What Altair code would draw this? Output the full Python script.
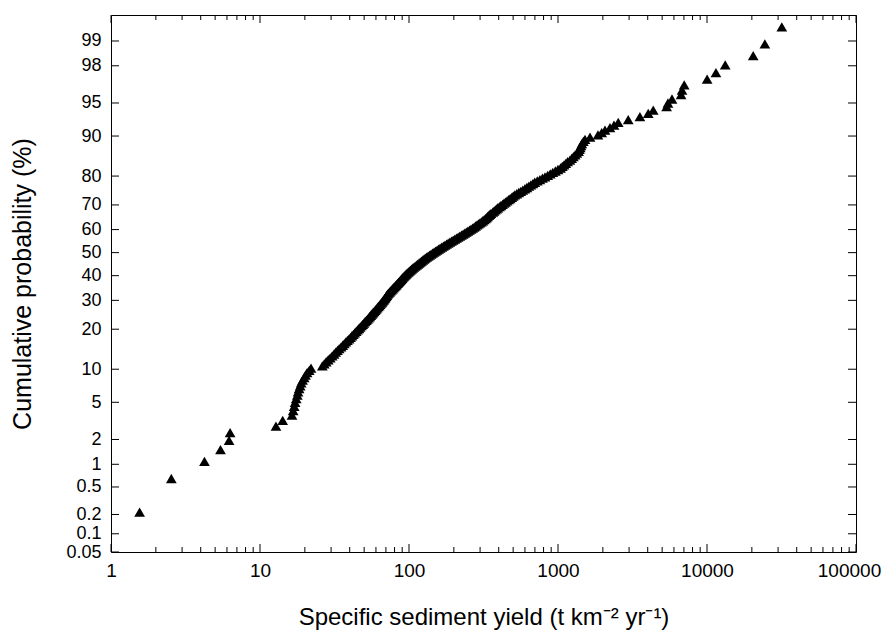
import altair as alt
import pandas as pd
from statistics import NormalDist

# Specific sediment yields (t km-2 yr-1), sorted ascending
yields = [
    1.556, 2.54, 4.24, 5.43, 6.2, 6.3, 12.8, 14.2, 16.4, 16.7,
    16.96, 17.2, 17.5, 17.8, 18.0, 18.3, 18.6, 18.9, 19.3, 19.8,
    20.2, 20.7, 21.4, 22.0, 26.2, 27.0, 27.8, 28.7, 29.6, 30.5,
    31.4, 32.2, 33.1, 34.0, 35.0, 35.9, 36.8, 37.7, 38.6, 39.6,
    40.5, 41.4, 42.3, 43.2, 44.2, 45.1, 46.1, 47.0, 48.0, 48.9,
    49.8, 50.7, 51.7, 52.6, 53.6, 54.5, 55.4, 56.4, 57.3, 58.3,
    59.2, 60.2, 61.1, 62.1, 63.1, 64.0, 65.0, 65.9, 66.8, 67.8,
    68.6, 69.4, 70.2, 71.0, 71.8, 72.9, 74.1, 75.2, 76.4, 77.6,
    78.8, 80.0, 81.3, 82.5, 83.8, 85.0, 86.2, 87.4, 88.6, 89.9,
    91.3, 92.7, 94.2, 95.6, 97.1, 98.8, 100.5, 102.3, 104.1, 105.9,
    108.0, 110.1, 112.3, 114.5, 116.7, 119.0, 121.3, 123.7, 126.1, 128.5,
    131.4, 134.4, 137.5, 140.7, 143.9, 147.3, 150.8, 154.5, 158.1, 161.8,
    165.9, 170.1, 174.4, 178.8, 183.2, 187.9, 192.8, 197.9, 203.1, 208.4,
    213.8, 219.3, 225.0, 230.8, 236.6, 242.5, 248.5, 254.6, 260.9, 267.3,
    273.5, 279.8, 286.2, 292.6, 299.2, 306.0, 313.0, 319.5, 326.0, 331.0,
    337.0, 343.0, 349.0, 355.0, 364.8, 372.0, 379.5, 387.0, 395.0, 404.6,
    414.0, 424.0, 434.0, 444.0, 455.0, 466.0, 477.0, 489.0, 500.5, 512.9,
    528.9, 545.4, 562.5, 580.4, 599.8, 618.5, 637.8, 657.7, 678.0, 698.2,
    726.3, 755.6, 786.1, 818.1, 853.1, 887.0, 922.9, 960.2, 999.3, 1040,
    1069, 1098, 1128, 1160, 1202, 1235, 1268, 1303, 1338, 1374,
    1392, 1410, 1428, 1446, 1480, 1518, 1640, 1854, 1963, 2067,
    2232, 2376, 2537, 2960, 3546, 4033, 4357, 5357, 5470, 5821,
    6700, 6800, 7032, 10020, 11480, 13250, 20420, 24450, 31770,
]
n_total = 230  # sample count (largest value plots above the axis top)

prob_ticks = [0.05, 0.1, 0.2, 0.5, 1, 2, 5, 10, 20, 30, 40, 50, 60, 70, 80, 90, 95, 98, 99]
prob_labels = ["0.05", "0.1", "0.2", "0.5", "1", "2", "5", "10", "20", "30",
               "40", "50", "60", "70", "80", "90", "95", "98", "99"]
prob_bottom = 0.05
prob_top = 99.55
x_major = [1, 10, 100, 1000, 10000, 100000]
x_minor_mult = [2, 3, 4, 5, 6, 7, 8, 9]

nd = NormalDist()
W, H = 745, 537
FONT = "Liberation Sans"

pts = pd.DataFrame({
    "x": yields,
    "z": [nd.inv_cdf((i + 0.5) / n_total) for i in range(len(yields))],
})
zt = [nd.inv_cdf(p / 100) for p in prob_ticks]
yt = pd.DataFrame({"z": zt})
xmaj = pd.DataFrame({"x": x_major})
xmin = pd.DataFrame({"x": [m * d for d in x_major[:-1] for m in x_minor_mult]})

# label expression mapping z positions back to percent labels
expr = ""
for i, lab in enumerate(prob_labels):
    if i < len(prob_labels) - 1:
        thr = (zt[i] + zt[i + 1]) / 2
        expr += f"datum.value < {thr:.5f} ? '{lab}' : "
    else:
        expr += f"'{lab}'"

xscale = alt.Scale(type="log", domain=[1, 100000], nice=False)
yscale = alt.Scale(domain=[nd.inv_cdf(prob_bottom / 100), nd.inv_cdf(prob_top / 100)],
                   nice=False, zero=False)

xaxis = alt.Axis(values=x_major, format="d", grid=False, ticks=False, tickSize=0,
                 domain=False, labelFlush=False, labelPadding=9, labelFontSize=19,
                 labelOffset=alt.condition("datum.value > 50000", alt.value(-7), alt.value(0)),
                 labelFont=FONT, labelColor="black",
                 title="Specific sediment yield (t km\u207b\u00b2 yr\u207b\u00b9)",
                 titleFont=FONT, titleFontSize=24, titleFontWeight="normal",
                 titleColor="black", titlePadding=25)
yaxis = alt.Axis(values=zt, labelExpr=expr, grid=False, ticks=False, tickSize=0,
                 domain=False, labelFlush=False, labelOverlap=False, labelPadding=10,
                 labelFontSize=18, labelFont=FONT, labelColor="black",
                 title="Cumulative probability (%)", titleFont=FONT, titleFontSize=25,
                 titleFontWeight="normal", titleColor="black", titlePadding=30)

points = alt.Chart(pts).mark_point(
    shape="triangle-up", filled=True, color="black", size=115, opacity=1
).encode(
    x=alt.X("x:Q", scale=xscale, axis=xaxis),
    y=alt.Y("z:Q", scale=yscale, axis=yaxis),
)

def xrule(df, y0, y1):
    return alt.Chart(df).mark_rule(color="black", strokeWidth=1).encode(
        x=alt.X("x:Q", scale=xscale, axis=xaxis),
        y=alt.value(y0), y2=alt.value(y1))

def yrule(x0, x1):
    return alt.Chart(yt).mark_rule(color="black", strokeWidth=1).encode(
        y=alt.Y("z:Q", scale=yscale, axis=yaxis),
        x=alt.value(x0), x2=alt.value(x1))

chart = alt.layer(
    points,
    xrule(xmaj, H, H - 8), xrule(xmaj, 0, 8),
    xrule(xmin, H, H - 5), xrule(xmin, 0, 5),
    yrule(0, 8), yrule(W, W - 8),
).properties(
    width=W, height=H,
    padding={"left": 103, "top": 7, "right": 26, "bottom": 80},
    autosize=alt.AutoSizeParams(type="none"),
    background="white",
).configure_view(stroke="black", strokeWidth=1)

chart.save("out.html", embed_options={"renderer": "svg", "actions": False})
